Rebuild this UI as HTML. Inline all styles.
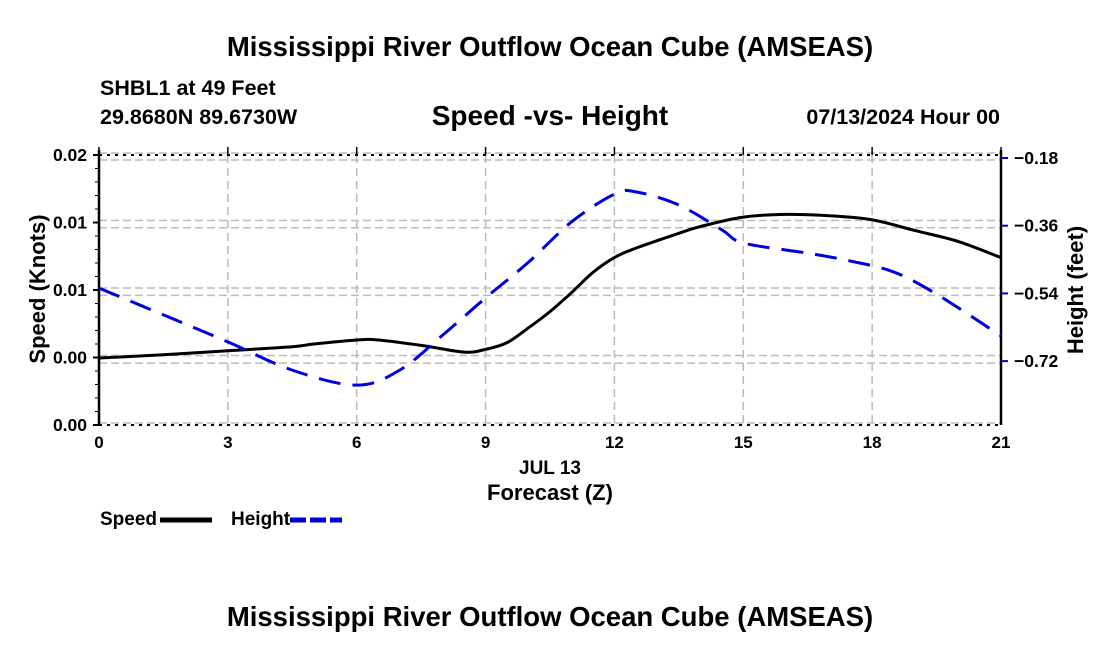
<!DOCTYPE html>
<html><head><meta charset="utf-8"><style>
body{margin:0;background:#fff;width:1100px;height:650px;overflow:hidden}
text{font-family:"Liberation Sans",sans-serif;font-weight:bold;fill:#000}
</style></head><body>
<svg id="chart" width="1100" height="650" viewBox="0 0 1100 650">
<text x="550" y="56" font-size="27.5" text-anchor="middle">Mississippi River Outflow Ocean Cube (AMSEAS)</text>
<text x="100" y="95" font-size="21.5">SHBL1 at 49 Feet</text>
<text x="100" y="124" font-size="21.5">29.8680N  89.6730W</text>
<text x="550" y="125" font-size="28" text-anchor="middle">Speed -vs- Height</text>
<text x="1000" y="124" font-size="21.5" text-anchor="end">07/13/2024 Hour 00</text>
<g id="grid"></g>
<g id="axes"></g>
<g id="series"></g>
<text transform="translate(45,289) rotate(-90)" font-size="22" text-anchor="middle">Speed (Knots)</text>
<text transform="translate(1083,290) rotate(-90)" font-size="22" text-anchor="middle">Height (feet)</text>
<text x="550" y="474" font-size="19" text-anchor="middle">JUL 13</text>
<text x="550" y="500" font-size="22" text-anchor="middle">Forecast (Z)</text>
<g><text x="100" y="525" font-size="19">Speed</text><line x1="160" y1="520" x2="212" y2="520" stroke="#000" stroke-width="5"/></g>
<g><text x="231" y="525" font-size="19">Height</text><line x1="290" y1="520" x2="342" y2="520" stroke="#0000dd" stroke-width="5" stroke-dasharray="16,4"/></g>
<text x="550" y="626" font-size="27.5" text-anchor="middle">Mississippi River Outflow Ocean Cube (AMSEAS)</text>
</svg>
<script>
const xTicks=[0,3,6,9,12,15,18,21];
const leftTicks=[0,0.005,0.01,0.015,0.02];
const leftTickLabels=["0.00","0.00","0.01","0.01","0.02"];
const rightTicks=[-0.18,-0.36,-0.54,-0.72];
const rightTickLabels=["−0.18","−0.36","−0.54","−0.72"];
const speedHours=[0,1.5,3,4.5,5,6,6.5,7.5,8.5,9,9.5,10,10.5,11,11.5,12,12.5,13.5,14,15,16,17,18,19,20,21];
const speedValues=[0.00496,0.0052,0.0055,0.0058,0.006,0.0063,0.0063,0.0059,0.0054,0.0056,0.0061,0.0072,0.0084,0.0098,0.0113,0.0124,0.0131,0.0142,0.0147,0.0154,0.0156,0.0155,0.0152,0.0144,0.0136,0.0124];
const heightHours=[0,1.5,3,4.5,6,7,8,9,10,11,12,12.5,13.5,14.5,15,16.5,17.5,18.5,19.5,21];
const heightValues=[-0.526,-0.597,-0.669,-0.744,-0.784,-0.744,-0.651,-0.552,-0.457,-0.35,-0.276,-0.27,-0.305,-0.371,-0.406,-0.433,-0.454,-0.483,-0.542,-0.653];
const X0=99,X1=1001,YT=155,YB=425;
const xs=h=>X0+(h/21)*(X1-X0);
const yL=v=>YB-(v/0.02)*(YB-YT);
const yR=v=>158+((-0.18-v)/0.18)*67.7;
const NS="http://www.w3.org/2000/svg";
function mk(tag,attrs,parent){const e=document.createElementNS(NS,tag);for(const k in attrs)e.setAttribute(k,attrs[k]);parent.appendChild(e);return e;}
const grid=document.getElementById('grid'),axes=document.getElementById('axes'),series=document.getElementById('series');
xTicks.forEach((t,i)=>{
 if(i>0&&i<xTicks.length-1){const l=mk('line',{x1:xs(t),x2:xs(t),y1:YT,y2:YB,stroke:'#bbb','stroke-width':1.5,'stroke-dasharray':'8,5'},grid);
 
 }
 const tx=mk('text',{x:xs(t),y:YB+23,'font-size':17,'text-anchor':'middle'},axes);tx.textContent=t;
 
 
 mk('line',{x1:xs(t),x2:xs(t),y1:YT-8,y2:YT,stroke:'#000','stroke-width':1.5},axes);
});
leftTicks.forEach((v,i)=>{
 const y=yL(v);
 const g=mk('line',{x1:X0,x2:X1,y1:y-2,y2:y-2,stroke:'#bbb','stroke-width':1.5,'stroke-dasharray':'8,4'},grid);
 
 
 mk('line',{x1:X0-6,x2:X0,y1:y,y2:y,stroke:'#000','stroke-width':2},axes);
 const tx=mk('text',{x:X0-12,y:y+6,'font-size':17.5,'text-anchor':'end'},axes);tx.textContent=leftTickLabels[i];
 
 
});
for(let k=1;k<20;k++){if(k%5)mk('line',{x1:X0-4,x2:X0,y1:YB-k*(YB-YT)/20,y2:YB-k*(YB-YT)/20,stroke:'#000','stroke-width':1},axes);}
rightTicks.forEach((v,i)=>{
 const y=yR(v);
 const g=mk('line',{x1:X0,x2:X1,y1:y+2,y2:y+2,stroke:'#bbb','stroke-width':1.5,'stroke-dasharray':'8,4'},grid);
 
 
 mk('line',{x1:X1,x2:X1+7,y1:y,y2:y,stroke:'#0000dd','stroke-width':2},axes);
 const tx=mk('text',{x:X1+13,y:y+6,'font-size':17.5},axes);tx.textContent=rightTickLabels[i];
 
 
});
[YT,YB].forEach(y=>mk('line',{x1:X0,x2:X1,y1:y,y2:y,stroke:'#000','stroke-width':2,'stroke-dasharray':'3,5'},axes));
mk('line',{x1:X0,x2:X0,y1:YT-5,y2:YB,stroke:'#000','stroke-width':2.5},axes);
mk('line',{x1:X1,x2:X1,y1:YT-5,y2:YB,stroke:'#000','stroke-width':2.5},axes);
function smooth(pts){let d=`M${pts[0][0]},${pts[0][1]}`;for(let i=0;i<pts.length-1;i++){const p0=pts[i-1]||pts[i],p1=pts[i],p2=pts[i+1],p3=pts[i+2]||p2;d+=` C${p1[0]+(p2[0]-p0[0])/6},${p1[1]+(p2[1]-p0[1])/6} ${p2[0]-(p3[0]-p1[0])/6},${p2[1]-(p3[1]-p1[1])/6} ${p2[0]},${p2[1]}`;}return d;}
const sp=mk('path',{d:smooth(speedHours.map((h,i)=>[xs(h),yL(speedValues[i])])),fill:'none',stroke:'#000','stroke-width':3},series);


const hp=mk('path',{d:smooth(heightHours.map((h,i)=>[xs(h),yR(heightValues[i])])),fill:'none',stroke:'#0000dd','stroke-width':3,'stroke-dasharray':'22,12'},series);


</script>
</body></html>
